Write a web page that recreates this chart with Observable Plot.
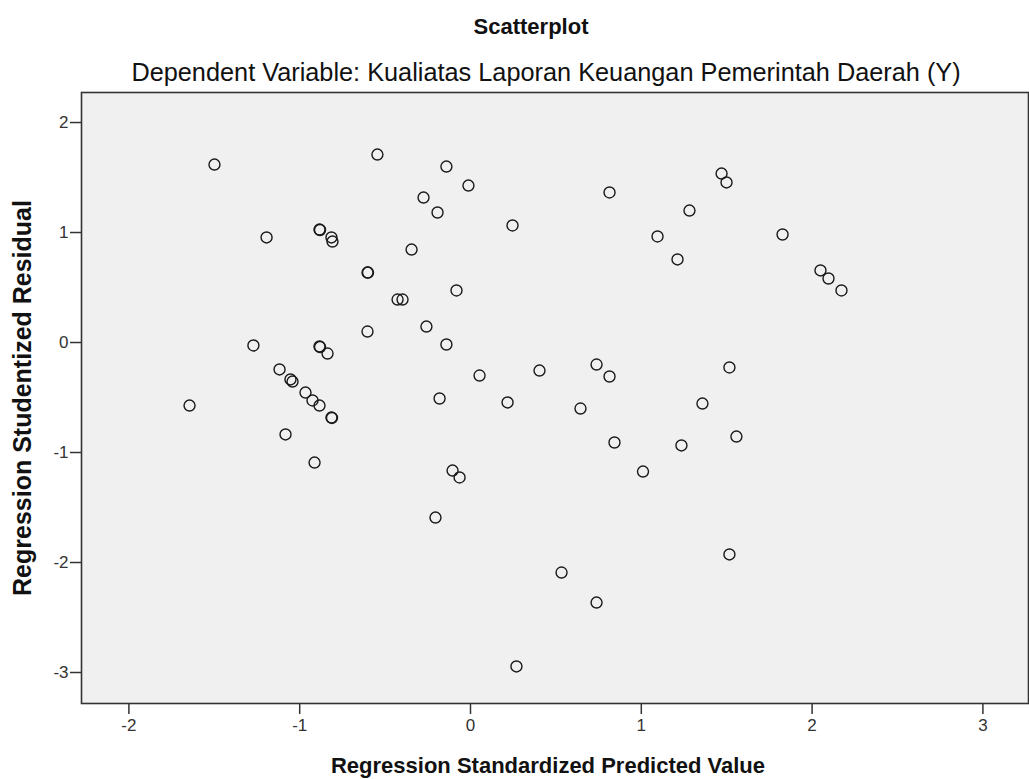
<!DOCTYPE html>
<html><head><meta charset="utf-8">
<script src="https://cdn.jsdelivr.net/npm/d3@7"></script>
<script src="https://cdn.jsdelivr.net/npm/@observablehq/plot@0.6"></script>
<style>
body{margin:0;background:#fff;}
#wrap{width:1029px;height:779px;}
</style></head><body><div id="wrap"></div>
<script>
const predicted = [-1.499,-0.545,-0.141,-0.012,-0.275,-0.193,0.814,1.470,1.499,1.282,1.095,1.212,1.827,2.049,2.096,2.172,0.246,-1.194,-0.884,-0.881,-0.814,-0.808,-0.345,-0.603,-0.600,-0.427,-0.398,-0.082,-0.603,-0.258,-1.271,-0.884,-0.881,-0.837,-0.141,-1.118,-1.054,-1.042,-0.966,-0.925,-0.884,-0.814,-0.811,-1.645,-1.083,-0.913,0.053,-0.181,0.217,0.404,0.738,0.814,0.644,1.516,1.358,0.843,1.557,1.235,1.010,-0.105,-0.064,-0.205,0.533,1.516,0.738,0.269];
const residual = [1.618,1.709,1.600,1.427,1.318,1.182,1.364,1.536,1.455,1.200,0.964,0.755,0.982,0.655,0.582,0.473,1.064,0.955,1.027,1.023,0.955,0.918,0.845,0.636,0.636,0.391,0.391,0.473,0.100,0.145,-0.027,-0.036,-0.041,-0.100,-0.018,-0.245,-0.336,-0.355,-0.455,-0.527,-0.573,-0.682,-0.686,-0.573,-0.836,-1.091,-0.300,-0.509,-0.545,-0.255,-0.200,-0.309,-0.600,-0.227,-0.555,-0.909,-0.855,-0.936,-1.173,-1.164,-1.227,-1.591,-2.091,-1.927,-2.364,-2.945];
const xTicks = [-2,-1,0,1,2,3];
const yTicks = [-3,-2,-1,0,1,2];
const titleText = "Scatterplot";
const subtitleText = "Dependent Variable: Kualiatas Laporan Keuangan Pemerintah Daerah (Y)";
const xLabel = "Regression Standardized Predicted Value";
const yLabel = "Regression Studentized Residual";

const data = predicted.map((x, i) => ({x, y: residual[i]}));
const font = "'Liberation Sans', Arial, sans-serif";

const chart = Plot.plot({
  width: 1029, height: 779,
  marginLeft: 81, marginRight: 1, marginTop: 92, marginBottom: 76,
  style: {fontFamily: font, background: "#fff", color: "#222"},
  x: {domain: [-2.2775, 3.267]},
  y: {domain: [-3.2818, 2.273]},
  marks: [
    Plot.frame({fill: "#f0f0f0"}),
    Plot.dot(data, {x: "x", y: "y", r: 5.5, stroke: "#1a1a1a", strokeWidth: 1.4, fill: "none"}),
    Plot.frame({stroke: "#333", strokeWidth: 1.6}),
    Plot.axisX({ticks: xTicks, tickSize: 11, tickPadding: 4, fontSize: 17, tickFormat: d => String(d), label: null, stroke: "#333", strokeWidth: 1.5, fill: "#333"}),
    Plot.axisY({ticks: yTicks, tickSize: 11, tickPadding: 2, fontSize: 17, tickFormat: d => String(d), label: null, stroke: "#333", strokeWidth: 1.5, fill: "#333"}),
    Plot.text([titleText], {text: d => d, frameAnchor: "top", lineAnchor: "middle", dx: -24, dy: -66, fontSize: 22, fontWeight: "bold", fill: "#111"}),
    Plot.text([subtitleText], {text: d => d, frameAnchor: "top", lineAnchor: "middle", dx: -9, dy: -20, fontSize: 25.3, fill: "#111"}),
    Plot.text([xLabel], {text: d => d, frameAnchor: "bottom", lineAnchor: "middle", dx: -7, dy: 62, fontSize: 22, fontWeight: "bold", fill: "#111"}),
    Plot.text([yLabel], {text: d => d, frameAnchor: "left", textAnchor: "middle", lineAnchor: "middle", rotate: -90, dx: -59, dy: 0, fontSize: 25, fontWeight: "bold", fill: "#111"})
  ]
});
document.getElementById("wrap").appendChild(chart);
</script></body></html>
